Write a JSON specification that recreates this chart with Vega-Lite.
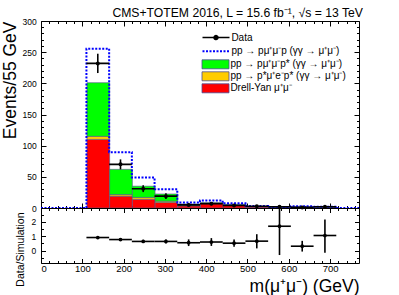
{
  "$schema": "https://vega.github.io/schema/vega-lite/v6.json",
  "background": "white",
  "padding": {"left": 0, "top": 6, "right": 0, "bottom": 0},
  "spacing": -3,
  "bounds": "flush",
  "datasets": {
    "stack": [
      {"lo": 110, "hi": 165, "proc": "Drell-Yan μ⁺μ⁻", "n": 110},
      {"lo": 110, "hi": 165, "proc": "pp → p*μ⁺e⁻p* (γγ → μ⁺μ⁻)", "n": 5},
      {"lo": 110, "hi": 165, "proc": "pp → pμ⁺μ⁻p* (γγ → μ⁺μ⁻)", "n": 86},
      {"lo": 165, "hi": 220, "proc": "Drell-Yan μ⁺μ⁻", "n": 19},
      {"lo": 165, "hi": 220, "proc": "pp → p*μ⁺e⁻p* (γγ → μ⁺μ⁻)", "n": 2.5},
      {"lo": 165, "hi": 220, "proc": "pp → pμ⁺μ⁻p* (γγ → μ⁺μ⁻)", "n": 40.5},
      {"lo": 220, "hi": 275, "proc": "Drell-Yan μ⁺μ⁻", "n": 14},
      {"lo": 220, "hi": 275, "proc": "pp → p*μ⁺e⁻p* (γγ → μ⁺μ⁻)", "n": 3},
      {"lo": 220, "hi": 275, "proc": "pp → pμ⁺μ⁻p* (γγ → μ⁺μ⁻)", "n": 18},
      {"lo": 275, "hi": 330, "proc": "Drell-Yan μ⁺μ⁻", "n": 9},
      {"lo": 275, "hi": 330, "proc": "pp → p*μ⁺e⁻p* (γγ → μ⁺μ⁻)", "n": 2},
      {"lo": 275, "hi": 330, "proc": "pp → pμ⁺μ⁻p* (γγ → μ⁺μ⁻)", "n": 11.5},
      {"lo": 330, "hi": 385, "proc": "Drell-Yan μ⁺μ⁻", "n": 3.5},
      {"lo": 330, "hi": 385, "proc": "pp → p*μ⁺e⁻p* (γγ → μ⁺μ⁻)", "n": 0.5},
      {"lo": 330, "hi": 385, "proc": "pp → pμ⁺μ⁻p* (γγ → μ⁺μ⁻)", "n": 2.5},
      {"lo": 385, "hi": 440, "proc": "Drell-Yan μ⁺μ⁻", "n": 7},
      {"lo": 385, "hi": 440, "proc": "pp → p*μ⁺e⁻p* (γγ → μ⁺μ⁻)", "n": 0.3},
      {"lo": 385, "hi": 440, "proc": "pp → pμ⁺μ⁻p* (γγ → μ⁺μ⁻)", "n": 1},
      {"lo": 440, "hi": 495, "proc": "Drell-Yan μ⁺μ⁻", "n": 5},
      {"lo": 440, "hi": 495, "proc": "pp → p*μ⁺e⁻p* (γγ → μ⁺μ⁻)", "n": 0.3},
      {"lo": 440, "hi": 495, "proc": "pp → pμ⁺μ⁻p* (γγ → μ⁺μ⁻)", "n": 0.7},
      {"lo": 495, "hi": 550, "proc": "Drell-Yan μ⁺μ⁻", "n": 1.8},
      {"lo": 495, "hi": 550, "proc": "pp → p*μ⁺e⁻p* (γγ → μ⁺μ⁻)", "n": 0.2},
      {"lo": 495, "hi": 550, "proc": "pp → pμ⁺μ⁻p* (γγ → μ⁺μ⁻)", "n": 0.5},
      {"lo": 550, "hi": 605, "proc": "Drell-Yan μ⁺μ⁻", "n": 0.7},
      {"lo": 550, "hi": 605, "proc": "pp → p*μ⁺e⁻p* (γγ → μ⁺μ⁻)", "n": 0.1},
      {"lo": 550, "hi": 605, "proc": "pp → pμ⁺μ⁻p* (γγ → μ⁺μ⁻)", "n": 0.3},
      {"lo": 605, "hi": 660, "proc": "Drell-Yan μ⁺μ⁻", "n": 1.2},
      {"lo": 605, "hi": 660, "proc": "pp → p*μ⁺e⁻p* (γγ → μ⁺μ⁻)", "n": 0.1},
      {"lo": 605, "hi": 660, "proc": "pp → pμ⁺μ⁻p* (γγ → μ⁺μ⁻)", "n": 0.5},
      {"lo": 660, "hi": 715, "proc": "Drell-Yan μ⁺μ⁻", "n": 1},
      {"lo": 660, "hi": 715, "proc": "pp → p*μ⁺e⁻p* (γγ → μ⁺μ⁻)", "n": 0.1},
      {"lo": 660, "hi": 715, "proc": "pp → pμ⁺μ⁻p* (γγ → μ⁺μ⁻)", "n": 0.3}
    ],
    "outline": [
      {"m": 0, "tot": 0},
      {"m": 110, "tot": 255.5},
      {"m": 165, "tot": 89.5},
      {"m": 220, "tot": 49},
      {"m": 275, "tot": 30},
      {"m": 330, "tot": 8.7},
      {"m": 385, "tot": 12},
      {"m": 440, "tot": 7.5},
      {"m": 495, "tot": 3.3},
      {"m": 550, "tot": 1.6},
      {"m": 605, "tot": 2.8},
      {"m": 660, "tot": 2.2},
      {"m": 715, "tot": 0},
      {"m": 770, "tot": 0}
    ],
    "bins": [
      {"lo": 110, "hi": 165, "mid": 137.5, "data": 232, "dlo": 216.5, "dhi": 247.5, "ratio": 0.91, "rlo": 0.84, "rhi": 0.98},
      {"lo": 165, "hi": 220, "mid": 192.5, "data": 70, "dlo": 62, "dhi": 78, "ratio": 0.77, "rlo": 0.68, "rhi": 0.86},
      {"lo": 220, "hi": 275, "mid": 247.5, "data": 31, "dlo": 25.5, "dhi": 36.5, "ratio": 0.64, "rlo": 0.53, "rhi": 0.75},
      {"lo": 275, "hi": 330, "mid": 302.5, "data": 19, "dlo": 14.5, "dhi": 23.5, "ratio": 0.64, "rlo": 0.5, "rhi": 0.78},
      {"lo": 330, "hi": 385, "mid": 357.5, "data": 5, "dlo": 2.5, "dhi": 7.5, "ratio": 0.55, "rlo": 0.32, "rhi": 0.78},
      {"lo": 385, "hi": 440, "mid": 412.5, "data": 7, "dlo": 4.3, "dhi": 9.7, "ratio": 0.6, "rlo": 0.33, "rhi": 0.87},
      {"lo": 440, "hi": 495, "mid": 467.5, "data": 4, "dlo": 2, "dhi": 6, "ratio": 0.52, "rlo": 0.27, "rhi": 0.77},
      {"lo": 495, "hi": 550, "mid": 522.5, "data": 2.7, "dlo": 1.1, "dhi": 4.3, "ratio": 0.66, "rlo": 0.16, "rhi": 1.14},
      {"lo": 550, "hi": 605, "mid": 577.5, "data": 2, "dlo": 0.6, "dhi": 3.4, "ratio": 1.69, "rlo": -0.3, "rhi": 3.1},
      {"lo": 605, "hi": 660, "mid": 632.5, "data": 1, "dlo": 0, "dhi": 2, "ratio": 0.31, "rlo": -0.06, "rhi": 0.68},
      {"lo": 660, "hi": 715, "mid": 687.5, "data": 2, "dlo": 0.6, "dhi": 3.4, "ratio": 1.05, "rlo": -0.15, "rhi": 2.15}
    ]
  },
  "vconcat": [
    {
      "width": 318,
      "height": 187,
      "title": {"text": "CMS+TOTEM 2016, L = 15.6 fb⁻¹, √s = 13 TeV", "anchor": "end", "fontSize": 12.2, "font": "Liberation Sans", "fontWeight": "normal", "offset": -1.7, "color": "black"},
      "resolve": {"axis": {"x": "independent", "y": "independent"}},
      "layer": [
        {
          "data": {"name": "stack"},
          "mark": {"type": "bar", "binSpacing": 0, "stroke": "#50508c", "strokeWidth": 0.6},
          "encoding": {
            "x": {"field": "lo", "type": "quantitative", "bin": "binned",
                  "scale": {"domain": [0, 770], "nice": false, "zero": false},
                  "axis": {"orient": "bottom", "values": [0, 100, 200, 300, 400, 500, 600, 700], "labels": false, "tickSize": -5, "title": null}},
            "x2": {"field": "hi"},
            "y": {"field": "n", "type": "quantitative", "stack": "zero",
                  "scale": {"domain": [0, 300], "nice": false},
                  "axis": {"orient": "left", "values": [0, 50, 100, 150, 200, 250, 300], "tickSize": -5, "labelPadding": 9.8, "labelFontSize": 8.5,
                           "title": "Events/55 GeV", "titleFontSize": 17.5, "titleX": -30.5, "titleY": 0, "titleAlign": "right", "titleBaseline": "middle"}},
            "color": {"field": "proc", "type": "nominal",
                      "scale": {"domain": ["pp → pμ⁺μ⁻p* (γγ → μ⁺μ⁻)", "pp → p*μ⁺e⁻p* (γγ → μ⁺μ⁻)", "Drell-Yan μ⁺μ⁻"],
                                "range": ["#00ff00", "#ffcc00", "#ff0000"]},
                      "legend": {
                        "orient": "none", "legendX": 169, "legendY": 37.8, "padding": 0, "title": null,
                        "symbolType": "M-2.7,-0.9H2.7V0.9H-2.7Z", "symbolSize": 100, "symbolStrokeColor": "#4b4b96", "symbolStrokeWidth": 0.8, "symbolOpacity": 1,
                        "labelOffset": 9.4, "rowPadding": -1.6,
                        "labelFontSize": 10, "labelFont": "Liberation Sans", "labelColor": "black", "labelLimit": 300
                      }},
            "order": {"field": "proc", "sort": "ascending"}
          }
        },
        {
          "data": {"name": "outline"},
          "mark": {"type": "line", "interpolate": "step-after", "strokeDash": [2, 1.5], "strokeWidth": 2},
          "encoding": {
            "x": {"field": "m", "type": "quantitative", "scale": {"domain": [0, 770], "nice": false, "zero": false},
                  "axis": {"orient": "top", "values": [0, 100, 200, 300, 400, 500, 600, 700], "labels": false, "tickSize": -5, "title": null}},
            "y": {"field": "tot", "type": "quantitative", "scale": {"domain": [0, 300], "nice": false},
                  "axis": {"orient": "right", "values": [0, 50, 100, 150, 200, 250, 300], "labels": false, "tickSize": -5, "title": null}},
            "stroke": {"datum": "pp → pμ⁺μ⁻p (γγ → μ⁺μ⁻)", "type": "nominal", "scale": {"range": ["#0000ff"]},
                       "legend": {
                         "orient": "none", "legendX": 169, "legendY": 24.2, "padding": 0, "title": null,
                         "symbolType": "M-2.7,0H2.7", "symbolSize": 100, "symbolDash": [2, 1.5], "symbolStrokeWidth": 2,
                         "labelOffset": 9.4, "labelFontSize": 10, "labelFont": "Liberation Sans", "labelColor": "black", "labelLimit": 300
                       }}
          }
        },
        {
          "data": {"name": "bins"},
          "mark": {"type": "rule", "color": "black", "strokeWidth": 1.6},
          "encoding": {
            "x": {"field": "lo", "type": "quantitative", "scale": {"domain": [0, 770], "nice": false, "zero": false},
                  "axis": {"orient": "bottom", "values": [20, 40, 60, 80, 120, 140, 160, 180, 220, 240, 260, 280, 320, 340, 360, 380, 420, 440, 460, 480, 520, 540, 560, 580, 620, 640, 660, 680, 720, 740, 760], "labels": false, "tickSize": -2.5, "title": null}},
            "x2": {"field": "hi"},
            "y": {"field": "data", "type": "quantitative", "scale": {"domain": [0, 300], "nice": false},
                  "axis": {"orient": "left", "values": [10, 20, 30, 40, 60, 70, 80, 90, 110, 120, 130, 140, 160, 170, 180, 190, 210, 220, 230, 240, 260, 270, 280, 290], "labels": false, "tickSize": -2.5, "title": null}},
            "strokeDash": {"datum": "Data", "type": "nominal", "scale": {"range": [[1, 0]]},
                           "legend": {
                             "orient": "none", "legendX": 169, "legendY": 10.6, "padding": 0, "title": null,
                             "symbolType": "M-2.7,0H2.7M-0.4,0A0.4,0.4,0,1,1,0.4,0A0.4,0.4,0,1,1,-0.4,0Z", "symbolSize": 100,
                             "symbolFillColor": "black", "symbolStrokeColor": "black", "symbolStrokeWidth": 1.5,
                             "labelOffset": 9.4, "labelFontSize": 10, "labelFont": "Liberation Sans", "labelColor": "black"
                           }}
          }
        },
        {
          "data": {"name": "bins"},
          "mark": {"type": "rule", "color": "black", "strokeWidth": 1.6},
          "encoding": {
            "x": {"field": "mid", "type": "quantitative", "scale": {"domain": [0, 770], "nice": false, "zero": false},
                  "axis": {"orient": "top", "values": [20, 40, 60, 80, 120, 140, 160, 180, 220, 240, 260, 280, 320, 340, 360, 380, 420, 440, 460, 480, 520, 540, 560, 580, 620, 640, 660, 680, 720, 740, 760], "labels": false, "tickSize": -2.5, "title": null}},
            "y": {"field": "dlo", "type": "quantitative", "scale": {"domain": [0, 300], "nice": false},
                  "axis": {"orient": "right", "values": [10, 20, 30, 40, 60, 70, 80, 90, 110, 120, 130, 140, 160, 170, 180, 190, 210, 220, 230, 240, 260, 270, 280, 290], "labels": false, "tickSize": -2.5, "title": null}},
            "y2": {"field": "dhi"}
          }
        },
        {
          "data": {"name": "bins"},
          "mark": {"type": "point", "filled": true, "color": "black", "size": 16, "opacity": 1},
          "encoding": {
            "x": {"field": "mid", "type": "quantitative", "scale": {"domain": [0, 770], "nice": false, "zero": false}, "axis": null},
            "y": {"field": "data", "type": "quantitative", "scale": {"domain": [0, 300], "nice": false}, "axis": null}
          }
        }
      ]
    },
    {
      "width": 318,
      "height": 55,
      "resolve": {"axis": {"x": "independent", "y": "independent"}},
      "layer": [
        {
          "mark": {"type": "rule", "color": "#0000ff", "strokeDash": [1.5, 1.5], "strokeWidth": 1.5},
          "encoding": {
            "x": {"datum": 0, "type": "quantitative", "scale": {"domain": [0, 770], "nice": false, "zero": false},
                  "axis": {"orient": "top", "values": [20, 40, 60, 80, 120, 140, 160, 180, 220, 240, 260, 280, 320, 340, 360, 380, 420, 440, 460, 480, 520, 540, 560, 580, 620, 640, 660, 680, 720, 740, 760], "labels": false, "tickSize": -2.5, "title": null}},
            "x2": {"datum": 770},
            "y": {"datum": 1, "type": "quantitative", "scale": {"domain": [-0.85, 2.95], "nice": false, "zero": false},
                  "axis": {"orient": "right", "values": [-0.5, 0.5, 1.5, 2.5], "labels": false, "tickSize": -2.5, "title": null}}
          }
        },
        {
          "data": {"name": "bins"},
          "mark": {"type": "rule", "color": "black", "strokeWidth": 1.6},
          "encoding": {
            "x": {"field": "lo", "type": "quantitative", "scale": {"domain": [0, 770], "nice": false, "zero": false},
                  "axis": {"orient": "bottom", "values": [0, 100, 200, 300, 400, 500, 600, 700], "tickSize": -4.5, "labelPadding": 4.9, "labelFontSize": 9.5,
                           "title": "m(μ⁺μ⁻) (GeV)", "titleFontSize": 17.5, "titleX": 318, "titleY": 28.7, "titleAlign": "right", "titleBaseline": "alphabetic"}},
            "x2": {"field": "hi"},
            "y": {"field": "ratio", "type": "quantitative", "scale": {"domain": [-0.85, 2.95], "nice": false, "zero": false},
                  "axis": {"orient": "left", "values": [0, 1, 2], "tickSize": -4.5, "labelPadding": 9.8, "labelFontSize": 8.5,
                           "title": "Data/Simulation", "titleFontSize": 10.5, "titleX": -20.5, "titleY": 4, "titleAlign": "right", "titleBaseline": "middle"}}
          }
        },
        {
          "data": {"name": "bins"},
          "mark": {"type": "rule", "color": "black", "strokeWidth": 1.6, "clip": false},
          "encoding": {
            "x": {"field": "mid", "type": "quantitative", "scale": {"domain": [0, 770], "nice": false, "zero": false},
                  "axis": {"orient": "top", "values": [0, 100, 200, 300, 400, 500, 600, 700], "labels": false, "tickSize": -4.5, "title": null}},
            "y": {"field": "rlo", "type": "quantitative", "scale": {"domain": [-0.85, 2.95], "nice": false, "zero": false},
                  "axis": {"orient": "right", "values": [0, 1, 2], "labels": false, "tickSize": -4.5, "title": null}},
            "y2": {"field": "rhi"}
          }
        },
        {
          "data": {"name": "bins"},
          "mark": {"type": "point", "filled": true, "color": "black", "size": 14, "opacity": 1},
          "encoding": {
            "x": {"field": "mid", "type": "quantitative", "scale": {"domain": [0, 770], "nice": false, "zero": false},
                  "axis": {"orient": "bottom", "values": [20, 40, 60, 80, 120, 140, 160, 180, 220, 240, 260, 280, 320, 340, 360, 380, 420, 440, 460, 480, 520, 540, 560, 580, 620, 640, 660, 680, 720, 740, 760], "labels": false, "tickSize": -2.5, "title": null}},
            "y": {"field": "ratio", "type": "quantitative", "scale": {"domain": [-0.85, 2.95], "nice": false, "zero": false},
                  "axis": {"orient": "left", "values": [-0.5, 0.5, 1.5, 2.5], "labels": false, "tickSize": -2.5, "title": null}}
          }
        }
      ]
    }
  ],
  "config": {
    "font": "Liberation Sans",
    "view": {"stroke": "black", "strokeWidth": 1},
    "axis": {"domain": false, "grid": false, "tickColor": "black", "tickWidth": 1, "labelColor": "black", "titleColor": "black",
             "labelFont": "Liberation Sans", "titleFont": "Liberation Sans", "titleFontWeight": "normal"}
  }
}
